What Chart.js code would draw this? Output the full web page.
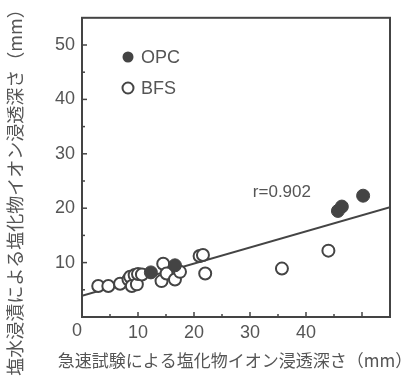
<!DOCTYPE html>
<html>
<head>
<meta charset="utf-8">
<script src="https://cdn.jsdelivr.net/npm/chart.js@4.4.1/dist/chart.umd.min.js"></script>
<style>
  html, body { margin: 0; padding: 0; background: #fff; }
  #wrap { width: 416px; height: 384px; }
</style>
</head>
<body>
<div id="wrap"><canvas id="CHLORIDE_CHART" width="416" height="384"></canvas></div>
<script>
// values
const opcX = [12.3, 16.6, 45.7, 46.4, 50.2];
const opcY = [8.2, 9.5, 19.5, 20.3, 22.3];
const bfsX = [2.9, 4.7, 6.8, 8.3, 8.6, 8.9, 9.4, 9.8, 10.0, 10.7, 14.2, 14.5, 15.1, 16.6, 17.5, 21.0, 21.6, 22.0, 35.7, 44.0];
const bfsY = [5.7, 5.7, 6.1, 6.9, 7.4, 5.7, 7.7, 6.0, 7.9, 7.8, 6.6, 9.8, 8.0, 6.9, 8.3, 11.2, 11.4, 8.0, 8.9, 12.2];
const fitX = [0, 55];
const fitY = [3.9, 20.2];
const rLabel = "r=0.902";
const xTitle = "急速試験による塩化物イオン浸透深さ（mm）";
const yTitle = "塩水浸漬による塩化物イオン浸透深さ（mm）";

const ink = "#444";
const txt = "#555";
const numFont = '"Liberation Sans", Arial, sans-serif';
const jpFont = '"Noto Sans CJK JP", sans-serif';

function pts(xs, ys) {
    return xs.map((x, i) => ({ x: x, y: ys[i] }));
}

// frame, inner ticks, legend, titles and the r label
const decor = {
    id: 'decor',
    afterDatasetsDraw(chart) {
        const ctx = chart.ctx;
        const a = chart.chartArea;
        const xs = chart.scales.x;
        const ys = chart.scales.y;
        ctx.save();
        ctx.strokeStyle = ink;
        ctx.lineWidth = 2;
        ctx.strokeRect(a.left, a.top, a.right - a.left, a.bottom - a.top);

        ctx.lineWidth = 1.5;
        for (let v = 5; v <= 50; v += 5) {
            const len = v % 10 === 0 ? 5 : 3;
            const px = xs.getPixelForValue(v);
            ctx.beginPath();
            ctx.moveTo(px, a.bottom);
            ctx.lineTo(px, a.bottom - len);
            ctx.stroke();
            const py = ys.getPixelForValue(v);
            ctx.beginPath();
            ctx.moveTo(a.left, py);
            ctx.lineTo(a.left + len, py);
            ctx.stroke();
        }

        // corner zero
        ctx.fillStyle = txt;
        ctx.font = '18px ' + numFont;
        ctx.textAlign = 'center';
        ctx.textBaseline = 'middle';
        ctx.fillText('0', a.left - 5, a.bottom + 14);

        // r label
        ctx.font = '17px ' + numFont;
        ctx.fillText(rLabel, xs.getPixelForValue(35.7), ys.getPixelForValue(23.0));

        // legend
        const ds = chart.data.datasets;
        ctx.font = '18px ' + numFont;
        ctx.textAlign = 'left';
        [[ds[0], 57, true], [ds[1], 88, false]].forEach(([d, y, filled]) => {
            ctx.beginPath();
            ctx.arc(a.left + 46, y, 5.5, 0, Math.PI * 2);
            if (filled) { ctx.fillStyle = ink; ctx.fill(); }
            else { ctx.strokeStyle = ink; ctx.lineWidth = 2; ctx.stroke(); }
            ctx.fillStyle = txt;
            ctx.fillText(d.label, a.left + 59, y + 1);
        });

        // axis titles
        ctx.font = '17px ' + jpFont;
        ctx.textAlign = 'center';
        ctx.fillText(xTitle, 235, 361);
        ctx.save();
        ctx.translate(15, 188);
        ctx.rotate(-Math.PI / 2);
        ctx.font = '18px ' + jpFont;
        ctx.fillText(yTitle, 0, 0);
        ctx.restore();
        ctx.restore();
    }
};

const chloride = new Chart(document.getElementById("CHLORIDE_CHART").getContext("2d"), {
    type: 'scatter',
    data: {
        datasets: [{
            label: "OPC",
            data: pts(opcX, opcY),
            backgroundColor: ink,
            borderColor: ink,
            borderWidth: 1,
            pointRadius: 6.5,
            order: 1
        }, {
            label: "BFS",
            data: pts(bfsX, bfsY),
            backgroundColor: '#fff',
            borderColor: ink,
            borderWidth: 2,
            pointRadius: 6,
            order: 2
        }, {
            type: 'line',
            label: "fit",
            data: pts(fitX, fitY),
            borderColor: ink,
            borderWidth: 2,
            pointRadius: 0,
            fill: false,
            order: 3
        }]
    },
    options: {
        responsive: false,
        animation: false,
        devicePixelRatio: 1,
        layout: { padding: { top: 7, right: 26, left: 0, bottom: 0 } },
        plugins: {
            legend: { display: false },
            tooltip: { enabled: false }
        },
        scales: {
            x: {
                type: 'linear',
                min: 0,
                max: 55,
                grid: { display: false, drawTicks: false },
                border: { display: false },
                ticks: {
                    stepSize: 10,
                    padding: 5,
                    color: txt,
                    font: { family: numFont, size: 18 },
                    maxRotation: 0,
                    callback: (v) => (v % 10 === 0 && v > 0) ? v : ''
                },
                afterFit: (s) => { s.height = 67; }
            },
            y: {
                type: 'linear',
                min: 0,
                max: 55,
                grid: { display: false, drawTicks: false },
                border: { display: false },
                ticks: {
                    stepSize: 10,
                    padding: 7,
                    color: txt,
                    font: { family: numFont, size: 18 },
                    callback: (v) => (v % 10 === 0 && v > 0) ? v : ''
                },
                afterFit: (s) => { s.width = 82; }
            }
        }
    },
    plugins: [decor]
});
</script>
</body>
</html>
